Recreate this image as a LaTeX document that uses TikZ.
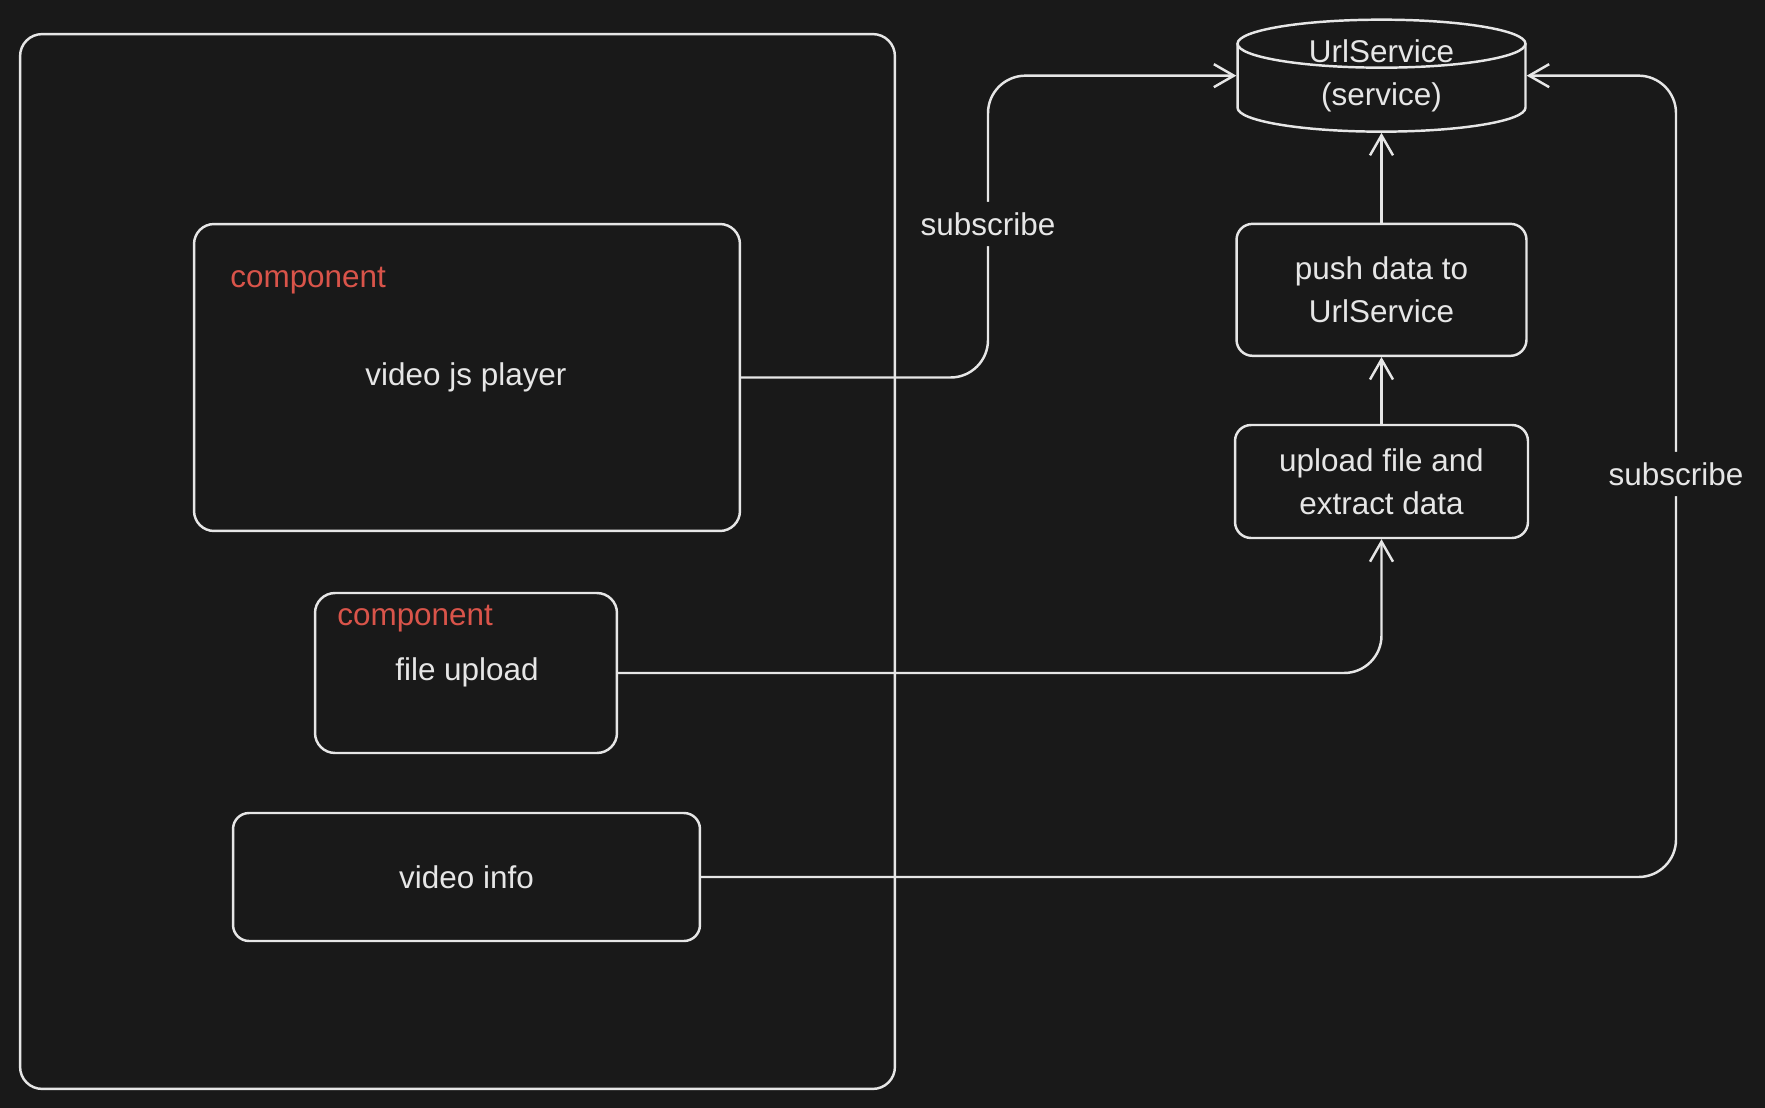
\documentclass[tikz,border=0pt]{standalone}
\usepackage{fontspec}
\setmainfont{Liberation Sans}
\usepackage{xcolor}
\usepackage{tikz}
\usetikzlibrary{arrows.meta,positioning,calc}
\definecolor{canvasbg}{HTML}{191919}
\definecolor{inkline}{HTML}{E6E6E6}
\definecolor{tagred}{HTML}{D9544A}
\newcommand{\boxfont}{\fontsize{17.9}{24.4}\selectfont}
\tikzset{
  framebox/.style={draw=inkline,line width=1.4pt,rounded corners=0.44cm,inner sep=0pt},
  compbox/.style={draw=inkline,line width=1.4pt,rounded corners=0.4cm,inner sep=0pt},
  stepbox/.style={draw=inkline,line width=1.4pt,rounded corners=0.32cm,text=inkline,align=center,
    font=\boxfont,inner sep=0pt},
  comptext/.style={text=inkline,font=\boxfont,inner sep=0pt,anchor=base},
  tagtext/.style={text=tagred,font=\boxfont,inner sep=0pt,anchor=base west},
  flowarrow/.style={-{Straight Barb[length=0.4cm,width=0.46cm]},draw=inkline,line width=1.4pt,
    rounded corners=0.75cm},
  edgelabel/.style={fill=canvasbg,text=inkline,font=\boxfont,inner xsep=3pt,inner ysep=6pt}
}

\begin{document}
\begin{tikzpicture}[x=0.02cm,y=0.02cm,line cap=round,line join=round]
  \fill[canvasbg] (0,0) rectangle (1765,-1108);
  \useasboundingbox (0,0) rectangle (1765,-1108);

  \node[framebox,minimum width=17.5cm,minimum height=21.1cm] (page) at (457.5,-561.5) {};

  \node[compbox,minimum width=10.92cm,minimum height=6.14cm] (player) at (467,-377.5) {};
  \node[tagtext] (playertag) at (230,-288) {component};
  \node[comptext] (playertxt) at (466,-385) {video js player};

  \node[compbox,minimum width=6.04cm,minimum height=3.2cm] (fileup) at (466,-673) {};
  \node[tagtext] (fileuptag) at (337,-625) {component};
  \node[comptext] (fileuptxt) at (467,-680) {file upload};

  \node[stepbox,minimum width=9.34cm,minimum height=2.56cm] (vinfo) at (466.5,-877) {video info};

  \node[stepbox,minimum width=5.86cm,minimum height=2.26cm] (extract) at (1381.5,-481.5) {upload file and\\extract data};
  \node[stepbox,minimum width=5.8cm,minimum height=2.64cm,above=1.335cm of extract] (push) {push data to\\UrlService};
  \node[stepbox,draw=none,minimum width=5.76cm,minimum height=2.24cm,above=1.795cm of push] (urlsvc) {UrlService\\(service)};
  \draw[draw=inkline,line width=1.4pt] ($(urlsvc.center)+(0,0.64cm)$) ellipse [x radius=2.88cm,y radius=0.48cm];
  \draw[draw=inkline,line width=1.4pt] ($(urlsvc.center)+(-2.88cm,0.64cm)$) -- ++(0,-1.28cm)
    arc[start angle=180,end angle=360,x radius=2.88cm,y radius=0.48cm] -- ++(0,1.28cm);

  \coordinate (tapA) at (988,-224);
  \coordinate (tapB) at (1676,-474);
  \draw[flowarrow] (player.east) -| (tapA) node[edgelabel] (subA) {subscribe} |- (urlsvc.west);
  \draw[flowarrow] (vinfo.east) -| (tapB) node[edgelabel] (subB) {subscribe} |- (urlsvc.east);
  \draw[flowarrow] (fileup.east) -| (extract.south);
  \draw[flowarrow] (extract) -- (push);
  \draw[flowarrow] (push) -- (urlsvc);
\end{tikzpicture}
\end{document}
